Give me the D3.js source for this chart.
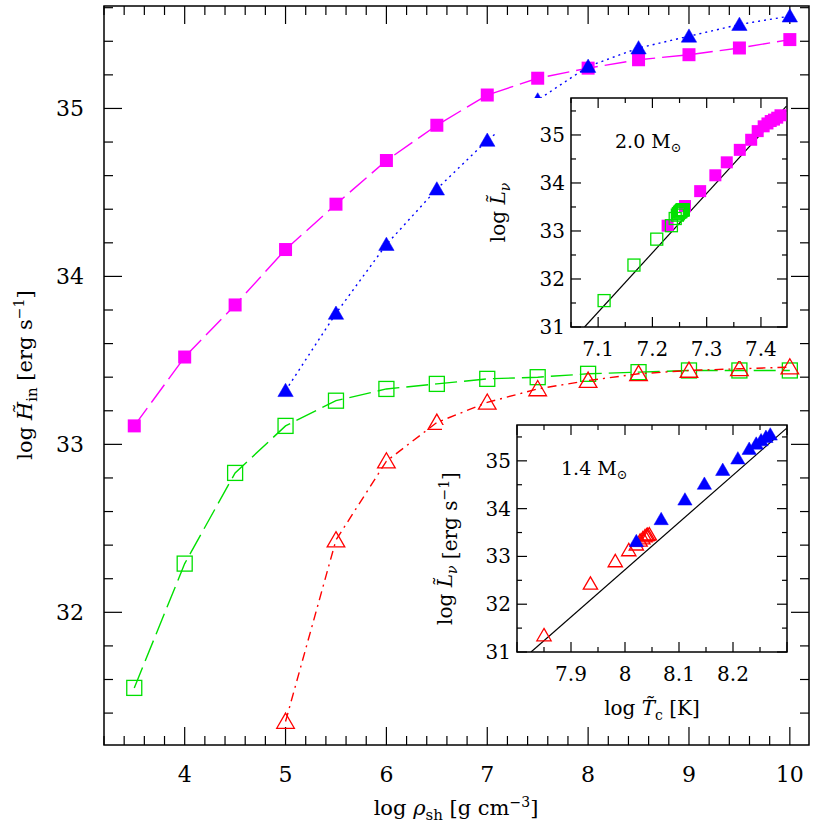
<!DOCTYPE html>
<html><head><meta charset="utf-8">
<script src="https://cdn.jsdelivr.net/npm/d3@7"></script>
<style>body{margin:0;background:#fff}svg{font-family:"DejaVu Serif","Liberation Serif",serif}</style>
</head><body><svg id="c" width="830" height="830"></svg>
<script>
// main panel: log rho_sh vs log H_in
const rho = [3.5, 4, 4.5, 5, 5.5, 6, 6.5, 7, 7.5, 8, 8.5, 9, 9.5, 10];
const rhoHi = [5, 5.5, 6, 6.5, 7, 7.5, 8, 8.5, 9, 9.5, 10];
const hMag = [33.11, 33.52, 33.83, 34.16, 34.43, 34.69, 34.90, 35.08, 35.18, 35.24, 35.29, 35.32, 35.36, 35.41];
const hGreen = [31.55, 32.29, 32.83, 33.11, 33.26, 33.33, 33.36, 33.39, 33.40, 33.42, 33.43, 33.44, 33.44, 33.44];
const hBlue = [33.32, 33.78, 34.19, 34.52, 34.81, 35.05, 35.25, 35.36, 35.43, 35.50, 35.55];
const hRed = [31.35, 32.43, 32.90, 33.13, 33.25, 33.33, 33.38, 33.42, 33.44, 33.45, 33.46];

// insets: central temperature
const tcMag = [7.228, 7.260, 7.288, 7.316, 7.337, 7.361, 7.382, 7.394, 7.405, 7.412, 7.418, 7.424, 7.430, 7.436];
const tcGreen = [7.111, 7.166, 7.208, 7.235, 7.242, 7.246, 7.248, 7.250, 7.252, 7.253, 7.254, 7.255, 7.256, 7.257];
const tcBlue = [8.021, 8.067, 8.111, 8.147, 8.181, 8.209, 8.230, 8.243, 8.252, 8.261, 8.269];
const tcRed = [7.850, 7.936, 7.982, 8.007, 8.021, 8.028, 8.033, 8.037, 8.040, 8.042, 8.045];
const fit20 = [[7.075, 31], [7.447, 35.6]];
const fit14 = [[7.826, 31], [8.299, 35.68]];

const mainXTicks = [4, 5, 6, 7, 8, 9, 10];
const mainYTicks = [32, 33, 34, 35];
const insetLTicks = [31, 32, 33, 34, 35];
const inset20XTicks = [7.1, 7.2, 7.3, 7.4];
const inset14XTicks = [7.9, 8, 8.1, 8.2];

const svg = d3.select("#c");
const MAG = "#ff00ff", GRN = "#00e000", BLU = "#0000ff", RED = "#ff0000";

function marker(g, type, color, x, y, s) {
  const h = s / 2;
  if (type === "sqF") g.append("rect").attr("x", x - h).attr("y", y - h).attr("width", s).attr("height", s).attr("fill", color);
  else if (type === "sqO") g.append("rect").attr("x", x - h).attr("y", y - h).attr("width", s).attr("height", s).attr("fill", "none").attr("stroke", color).attr("stroke-width", 1.3);
  else {
    const p = `M${x},${y - h * 1.05}L${x + h * 1.1},${y + h * 0.85}L${x - h * 1.1},${y + h * 0.85}Z`;
    g.append("path").attr("d", p).attr("fill", type === "trF" ? color : "none").attr("stroke", color).attr("stroke-width", type === "trF" ? 0.5 : 1.3);
  }
}

function frame(x0, x1, y0, y1, xs, ys, xMaj, xMin, yMaj, yMin, tlen) {
  const g = svg.append("g");
  g.append("rect").attr("x", x0).attr("y", y0).attr("width", x1 - x0).attr("height", y1 - y0).attr("fill", "none").attr("stroke", "#000").attr("stroke-width", 1.5);
  const [a, b] = xs.domain();
  for (let v = Math.ceil(a / xMin - 1e-6) * xMin; v <= b + 1e-9; v += xMin) {
    const maj = Math.abs(v / xMaj - Math.round(v / xMaj)) < 1e-6;
    const L = maj ? tlen : tlen / 2, px = xs(v);
    g.append("line").attr("x1", px).attr("x2", px).attr("y1", y1).attr("y2", y1 - L).attr("stroke", "#000").attr("stroke-width", 1.2);
    g.append("line").attr("x1", px).attr("x2", px).attr("y1", y0).attr("y2", y0 + L).attr("stroke", "#000").attr("stroke-width", 1.2);
  }
  const [c, d] = ys.domain();
  for (let v = Math.ceil(c / yMin - 1e-6) * yMin; v <= d + 1e-9; v += yMin) {
    const maj = Math.abs(v / yMaj - Math.round(v / yMaj)) < 1e-6;
    const L = maj ? tlen : tlen / 2, py = ys(v);
    g.append("line").attr("y1", py).attr("y2", py).attr("x1", x0).attr("x2", x0 + L).attr("stroke", "#000").attr("stroke-width", 1.2);
    g.append("line").attr("y1", py).attr("y2", py).attr("x1", x1).attr("x2", x1 - L).attr("stroke", "#000").attr("stroke-width", 1.2);
  }
  return g;
}

// ---- main panel
const x = d3.scaleLinear().domain([3.2, 10.19]).range([104, 809]);
const y = d3.scaleLinear().domain([31.21, 35.61]).range([745, 6]);
const fm = frame(104, 809, 6, 745, x, y, 1, 0.2, 1, 0.2, 18);
mainXTicks.forEach(v => fm.append("text").attr("x", x(v)).attr("y", 782).attr("text-anchor", "middle").attr("font-size", 22).text(v));
mainYTicks.forEach(v => fm.append("text").attr("x", 84).attr("y", y(v) + 8).attr("text-anchor", "end").attr("font-size", 22).text(v));

const line = d3.line();
function series(xv, yv, color, dash, type, s) {
  svg.append("path").attr("d", line(xv.map((v, i) => [x(v), y(yv[i])]))).attr("fill", "none")
    .attr("stroke", color).attr("stroke-width", 1.4).attr("stroke-dasharray", dash);
  xv.forEach((v, i) => marker(svg, type, color, x(v), y(yv[i]), s));
}
series(rho, hMag, MAG, "22,7", "sqF", 13);
series(rhoHi, hBlue, BLU, "2,4", "trF", 14);
series(rho, hGreen, GRN, "22,7", "sqO", 15);
series(rhoHi, hRed, RED, "9,5,2,5", "trO", 16);

// axis labels
svg.append("text").attr("x", 456).attr("y", 815).attr("text-anchor", "middle").attr("font-size", 21)
  .html('log <tspan font-style="italic">ρ</tspan><tspan font-size="15" dy="5">sh</tspan><tspan dy="-5"> [g cm</tspan><tspan font-size="14" dy="-8">−3</tspan><tspan dy="8">]</tspan>');
svg.append("text").attr("transform", "translate(32,375) rotate(-90)").attr("text-anchor", "middle").attr("font-size", 21)
  .html('log <tspan font-style="italic">H̃</tspan><tspan font-size="15" dy="5">in</tspan><tspan dy="-5">  [erg s</tspan><tspan font-size="14" dy="-8">−1</tspan><tspan dy="8">]</tspan>');

// ---- insets
function inset(x0, x1, y0, y1, xd, yd, xt, title, data, fit, xlabel, ylabelHtml, ylx) {
  const xs = d3.scaleLinear().domain(xd).range([x0, x1]);
  const ys = d3.scaleLinear().domain(yd).range([y1, y0]);
  svg.append("rect").attr("x", x0 - 75).attr("y", y0).attr("width", x1 - x0 + 75).attr("height", y1 - y0 + 34).attr("fill", "#fff");
  const g = frame(x0, x1, y0, y1, xs, ys, 0.1, 0.05, 1, 0.5, 10);
  xt.forEach(v => g.append("text").attr("x", xs(v)).attr("y", y1 + 29).attr("text-anchor", "middle").attr("font-size", 20).text(v));
  insetLTicks.forEach(v => g.append("text").attr("x", x0 - 6).attr("y", ys(v) + 7).attr("text-anchor", "end").attr("font-size", 20).text(v));
  const clip = "cl" + Math.round(x0);
  svg.append("clipPath").attr("id", clip).append("rect").attr("x", x0).attr("y", y0).attr("width", x1 - x0).attr("height", y1 - y0);
  svg.append("path").attr("clip-path", `url(#${clip})`).attr("d", line(fit.map(p => [xs(p[0]), ys(p[1])]))).attr("stroke", "#000").attr("stroke-width", 1.2);
  data.forEach(dd => dd.tc.forEach((v, i) => marker(svg, dd.type, dd.color, xs(v), ys(dd.L[i]), dd.s)));
  svg.append("text").attr("x", x0 + 44).attr("y", y0 + 50).attr("font-size", 19)
    .html(title + ' M<tspan font-size="13" dy="4">⊙</tspan>');
  if (xlabel) svg.append("text").attr("x", (x0 + x1) / 2).attr("y", y1 + 63).attr("text-anchor", "middle").attr("font-size", 20).html(xlabel);
  svg.append("text").attr("transform", `translate(${ylx},${(y0 + y1) / 2 + (xlabel ? 10 : 0)}) rotate(-90)`).attr("text-anchor", "middle").attr("font-size", 20).html(ylabelHtml);
}

const Lhtml = 'log <tspan font-style="italic">L̃</tspan><tspan font-size="14" font-style="italic" dy="5">ν</tspan><tspan dy="-5"></tspan>';
inset(571, 787, 98, 327, [7.05, 7.448], [31, 35.77], inset20XTicks, "2.0", [
  { tc: tcMag, L: hMag, type: "sqF", color: MAG, s: 12 },
  { tc: tcGreen, L: hGreen, type: "sqO", color: GRN, s: 12 }
], fit20, null, Lhtml, 505);
inset(517, 787, 425, 652, [7.8, 8.3], [31, 35.75], inset14XTicks, "1.4", [
  { tc: tcRed, L: hRed, type: "trO", color: RED, s: 13 },
  { tc: tcBlue, L: hBlue, type: "trF", color: BLU, s: 13 }
], fit14, 'log <tspan font-style="italic">T̃</tspan><tspan font-size="14" dy="5">c</tspan><tspan dy="-5"> [K]</tspan>',
  Lhtml + '<tspan>  [erg s</tspan><tspan font-size="14" dy="-8">−1</tspan><tspan dy="8">]</tspan>', 452);
</script></body></html>
